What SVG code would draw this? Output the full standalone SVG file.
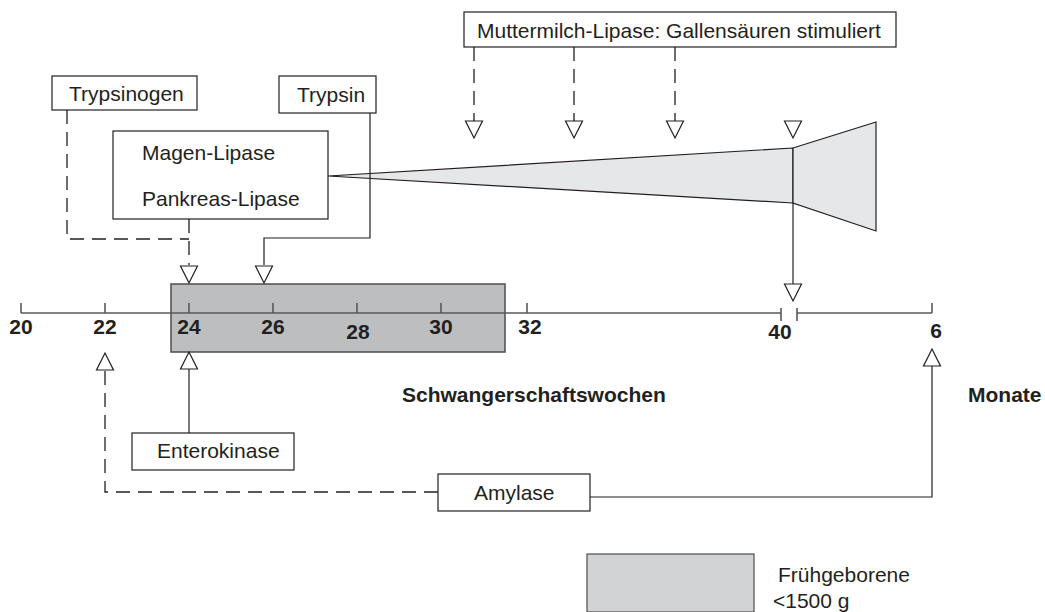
<svg xmlns="http://www.w3.org/2000/svg" width="1045" height="612" viewBox="0 0 1045 612">
<style>
.t{font-family:"Liberation Sans",Arial,sans-serif;font-size:21px;fill:#231f20}
.b{font-family:"Liberation Sans",Arial,sans-serif;font-size:21px;font-weight:bold;fill:#231f20}
.box{fill:#fff;stroke:#231f20;stroke-width:1.2}
.ln{fill:none;stroke:#231f20;stroke-width:1.2}
.ds{fill:none;stroke:#231f20;stroke-width:1.3;stroke-dasharray:14,8}
.ax{fill:none;stroke:#58595b;stroke-width:1.6}
.tri{fill:#fff;stroke:#231f20;stroke-width:1.2}
</style>
<defs>
<path id="dn" d="M-8.5,0 L8.5,0 L0,17 Z" class="tri"/>
<path id="up" d="M-8.5,0 L8.5,0 L0,-17 Z" class="tri"/>
</defs>
<rect width="1045" height="612" fill="#fff"/>

<g id="preterm-range">
<rect x="171" y="284" width="334" height="68" fill="#bcbec0" stroke="#4d4d4f" stroke-width="1.5"/>
</g>

<g id="axis">
<path class="ax" d="M21,313 H781 M797,313 H932"/>
<path class="ax" d="M21,303 V313 M105,303 V313 M189,303 V313 M273,303 V313 M357,303 V313 M441,303 V313 M527,303 V313 M781,308 V321 M797,308 V321 M932,303 V313"/>
<text class="b" x="21" y="334" text-anchor="middle">20</text>
<text class="b" x="105" y="334" text-anchor="middle">22</text>
<text class="b" x="189" y="334" text-anchor="middle">24</text>
<text class="b" x="273" y="334" text-anchor="middle">26</text>
<text class="b" x="358" y="339" text-anchor="middle">28</text>
<text class="b" x="441" y="334" text-anchor="middle">30</text>
<text class="b" x="530" y="334" text-anchor="middle">32</text>
<text class="b" x="780" y="339" text-anchor="middle">40</text>
<text class="b" x="936" y="338" text-anchor="middle">6</text>
<text class="b" x="402" y="402">Schwangerschaftswochen</text>
<text class="b" x="968" y="402">Monate</text>
</g>

<g id="wedge">
<path d="M328,176 L793,148 L793,203 Z" fill="#e6e7e8" stroke="#231f20" stroke-width="1.2" stroke-linejoin="round"/>
<path d="M793,148 L876,122 L876,231 L793,203 Z" fill="#e6e7e8" stroke="#231f20" stroke-width="1.2"/>
</g>

<g id="connectors">
<path class="ds" d="M474,47 V121"/>
<path class="ds" d="M574,47 V121"/>
<path class="ds" d="M675,47 V121"/>
<path class="ds" d="M67,110 V239 H189"/>
<path class="ds" d="M189,219 V265"/>
<path class="ln" d="M370,113 V238 H264 V265"/>
<path class="ln" d="M793,203 V284"/>
<path class="ln" d="M189,369 V433"/>
<path class="ds" d="M438,492 H105 V369"/>
<path class="ln" d="M590,497 H932 V366"/>
<use href="#dn" x="474" y="121"/>
<use href="#dn" x="574" y="121"/>
<use href="#dn" x="675" y="121"/>
<use href="#dn" x="793" y="121"/>
<use href="#dn" x="189" y="266"/>
<use href="#dn" x="264" y="266"/>
<use href="#dn" x="793" y="284"/>
<use href="#up" x="105" y="370"/>
<use href="#up" x="189" y="369"/>
<use href="#up" x="932" y="366"/>
</g>

<g id="muttermilch">
<rect class="box" x="464" y="12" width="432" height="35"/>
<text class="t" x="477" y="38">Muttermilch-Lipase: Gallensäuren stimuliert</text>
</g>
<g id="trypsinogen">
<rect class="box" x="52" y="76" width="145" height="34"/>
<text class="t" x="69" y="101">Trypsinogen</text>
</g>
<g id="trypsin">
<rect class="box" x="279" y="76" width="97" height="37"/>
<text class="t" x="297" y="102">Trypsin</text>
</g>
<g id="lipase">
<rect class="box" x="113" y="131" width="215" height="88"/>
<text class="t" x="142" y="160">Magen-Lipase</text>
<text class="t" x="142" y="206">Pankreas-Lipase</text>
</g>
<g id="enterokinase">
<rect class="box" x="132" y="433" width="162" height="37"/>
<text class="t" x="157" y="458">Enterokinase</text>
</g>
<g id="amylase">
<rect class="box" x="438" y="474" width="152" height="37"/>
<text class="t" x="474" y="500">Amylase</text>
</g>
<g id="legend">
<rect x="587" y="554" width="167" height="58" fill="#d1d3d4" stroke="#4d4d4f" stroke-width="1.2"/>
<text class="t" x="778" y="582">Frühgeborene</text>
<text class="t" x="773" y="608">&lt;1500 g</text>
</g>
</svg>
